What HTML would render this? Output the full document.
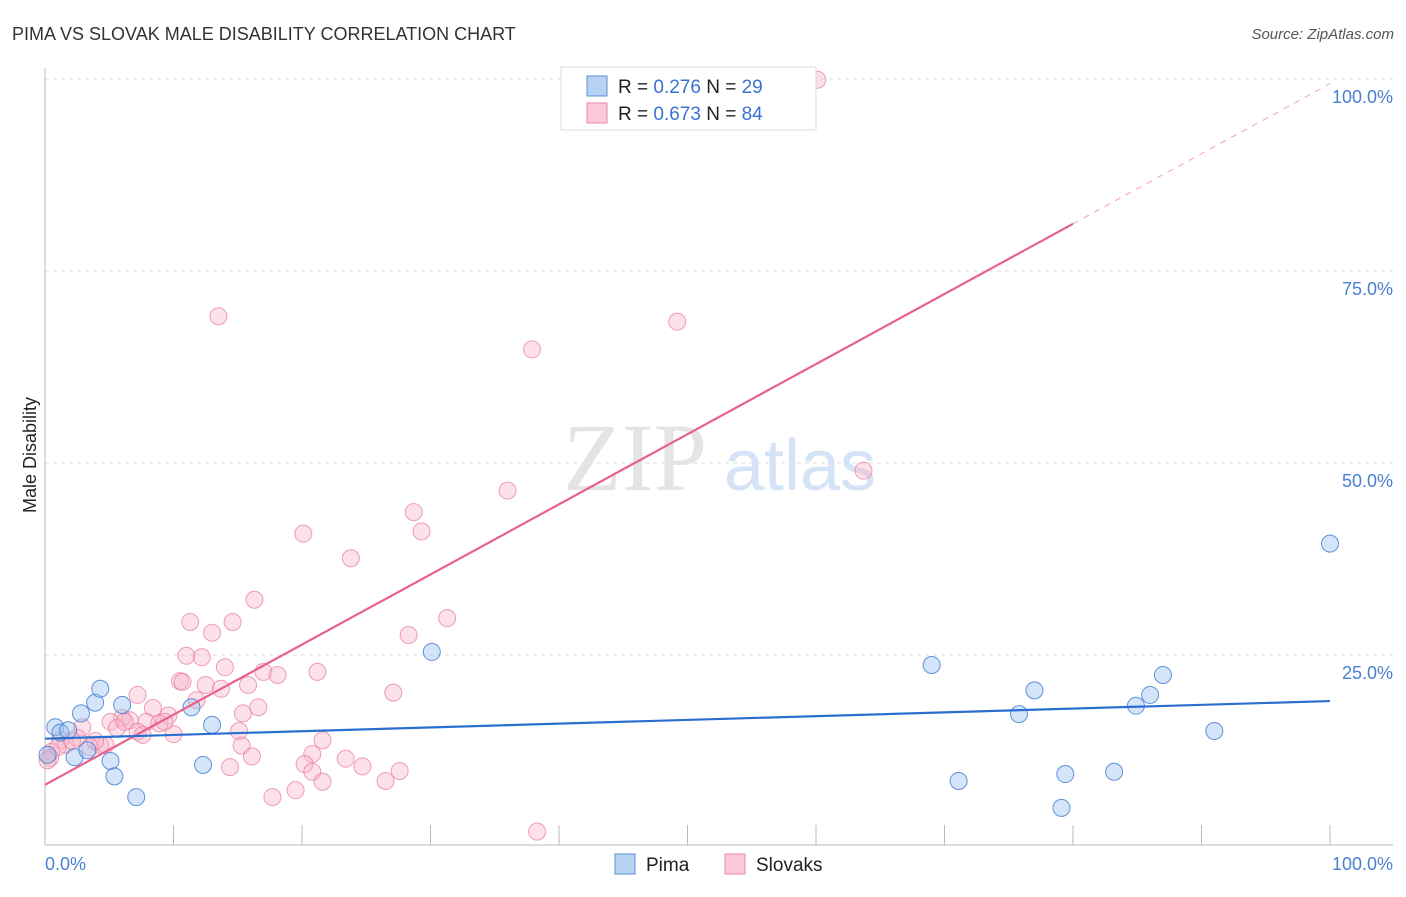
<!DOCTYPE html>
<html><head><meta charset="utf-8"><style>
body{margin:0;background:#fff;width:1406px;height:892px;overflow:hidden;font-family:"Liberation Sans",sans-serif}
</style></head><body>
<svg width="1406" height="892" viewBox="0 0 1406 892" xmlns="http://www.w3.org/2000/svg">
<text x="12" y="40" font-size="18" fill="#333">PIMA VS SLOVAK MALE DISABILITY CORRELATION CHART</text>
<text x="1394" y="39" font-size="15" fill="#555" font-style="italic" text-anchor="end">Source: ZipAtlas.com</text>
<g id="grid"></g>
<g>
<text x="635" y="490" font-size="96" font-family="Liberation Serif,serif" fill="#e4e4e4" text-anchor="middle">ZIP</text>
<text x="800" y="490" font-size="72" fill="#d5e3f6" text-anchor="middle">atlas</text>
</g>
<g id="axes"></g>
<g id="marks"></g>
<text x="36" y="455" font-size="18" fill="#222" text-anchor="middle" transform="rotate(-90 36 455)">Male Disability</text>
<text x="45" y="870" font-size="18" fill="#4a7fd4">0.0%</text>
<text x="1393" y="870" font-size="18" fill="#4a7fd4" text-anchor="end">100.0%</text>
<g>
<rect x="561" y="67" width="255" height="63" fill="#fff" stroke="#ddd"/>
<rect x="587" y="76" width="20" height="20" fill="#b8d2f4" stroke="#5a8fd8"/>
<text x="618" y="93" font-size="19" fill="#222">R = <tspan fill="#3a72d0">0.276</tspan>   N = <tspan fill="#3a72d0">29</tspan></text>
<rect x="587" y="103" width="20" height="20" fill="#fac8d8" stroke="#e887a8"/>
<text x="618" y="120" font-size="19" fill="#222">R = <tspan fill="#3a72d0">0.673</tspan>   N = <tspan fill="#3a72d0">84</tspan></text>
</g>
<g>
<rect x="615" y="854" width="20" height="20" fill="#b8d2f4" stroke="#5a8fd8"/>
<text x="646" y="871" font-size="19" fill="#222">Pima</text>
<rect x="725" y="854" width="20" height="20" fill="#fac8d8" stroke="#e887a8"/>
<text x="756" y="871" font-size="19" fill="#222">Slovaks</text>
</g>
</svg>
<script>
const yTicks=[25,50,75,100];
const yTickLabels=["25.0%","50.0%","75.0%","100.0%"];
const xTicks=[10,20,30,40,50,60,70,80,90,100];
const pimaX=[0.8,1.2,1.8,2.3,2.8,3.3,3.9,4.3,5.1,5.4,6.0,7.1,11.4,12.3,13.0,30.1,69.0,71.1,75.8,77.0,79.1,79.4,83.2,84.9,86.0,87.0,91.0,100,0.2];
const pimaY=[15.6,14.9,15.2,11.7,17.4,12.6,18.8,20.6,11.2,9.2,18.5,6.5,18.2,10.7,15.9,25.4,23.7,8.6,17.3,20.4,5.1,9.5,9.8,18.4,19.8,22.4,15.1,39.5,12.0];
const slovX=[51.8,60.1,13.5,49.2,37.9,63.7,36.0,28.7,29.3,20.1,23.8,16.3,31.3,11.3,14.6,13.0,28.3,11.0,12.2,14.0,21.2,17.0,18.1,10.5,10.7,12.5,13.7,15.8,27.1,7.2,11.8,16.6,8.4,6.0,6.6,9.6,15.4,5.1,7.9,8.9,2.9,5.6,7.2,10.0,15.1,7.6,21.6,15.3,20.8,1.2,2.5,4.3,1.6,3.5,4.7,0.5,1.0,0.4,16.1,14.4,20.2,23.4,24.7,20.8,27.6,26.5,21.6,19.5,17.7,38.3,0.2,2.1,3.9,6.2,9.3];
const slovY=[100,99.9,69.1,68.4,64.8,49.0,46.4,43.6,41.1,40.8,37.6,32.2,29.8,29.3,29.3,27.9,27.6,24.9,24.7,23.4,22.8,22.8,22.4,21.6,21.5,21.1,20.6,21.1,20.1,19.8,19.1,18.2,18.1,16.8,16.5,17.1,17.4,16.3,16.3,16.1,15.6,15.5,15.0,14.7,15.1,14.6,13.9,13.2,12.1,13.9,14.2,13.3,13.3,13.0,13.3,12.4,13.0,11.6,11.8,10.4,10.8,11.5,10.5,9.8,9.9,8.6,8.5,7.4,6.5,2.0,11.3,13.8,13.8,16.3,16.3];
const pimaTrend=[14.1,0.049];
const slovTrend=[8.1,0.913];
const NS="http://www.w3.org/2000/svg";
const X0=45,X1=1330,Y0=847,Y100=79;
const sx=v=>X0+(X1-X0)*v/100, sy=v=>Y0-(Y0-Y100)*v/100;
function mk(t,a,p){const e=document.createElementNS(NS,t);for(const k in a)e.setAttribute(k,a[k]);p.appendChild(e);return e;}
const grid=document.getElementById('grid'),axes=document.getElementById('axes'),marks=document.getElementById('marks');
yTicks.forEach((t,i)=>{
 const l=mk('line',{x1:45,x2:1393,y1:sy(t),y2:sy(t),stroke:'#ddd','stroke-dasharray':'4,4'},grid);
 
 
 const tx=mk('text',{x:1393,y:sy(t)+24,'font-size':18,fill:'#4a7fd4','text-anchor':'end'},axes);
 tx.textContent=yTickLabels[i];
 
 
});
mk('line',{x1:45,x2:45,y1:68,y2:845,stroke:'#bbb'},axes);
mk('line',{x1:45,x2:1393,y1:845,y2:845,stroke:'#bbb'},axes);
xTicks.forEach(t=>{
 const l=mk('line',{x1:sx(t),x2:sx(t),y1:825,y2:845,stroke:'#bbb'},axes);
 
 
});
function dots(xs,ys,fill,stroke,name){
 xs.forEach((x,i)=>{
  const c=mk('circle',{cx:sx(x),cy:sy(ys[i]),r:8.5,fill:fill,stroke:stroke,'stroke-width':1},marks);
  
  
 });
}
dots(slovX,slovY,'rgba(248,180,200,0.4)','rgba(232,120,155,0.7)','slovak-point');
dots(pimaX,pimaY,'rgba(150,190,240,0.4)','rgba(60,120,210,0.8)','pima-point');
const pl=mk('line',{x1:sx(0),y1:sy(slovTrend[0]),x2:sx(80),y2:sy(slovTrend[0]+slovTrend[1]*80),stroke:'#e8608c','stroke-width':2.2},marks);


const pd=mk('line',{x1:sx(80),y1:sy(slovTrend[0]+slovTrend[1]*80),x2:sx(100),y2:sy(slovTrend[0]+slovTrend[1]*100),stroke:'#f0a0b8','stroke-width':1,'stroke-dasharray':'6,6'},marks);


const bl=mk('line',{x1:sx(0),y1:sy(pimaTrend[0]),x2:sx(100),y2:sy(pimaTrend[0]+pimaTrend[1]*100),stroke:'#2a6fd0','stroke-width':2.2},marks);


</script>
</body></html>
